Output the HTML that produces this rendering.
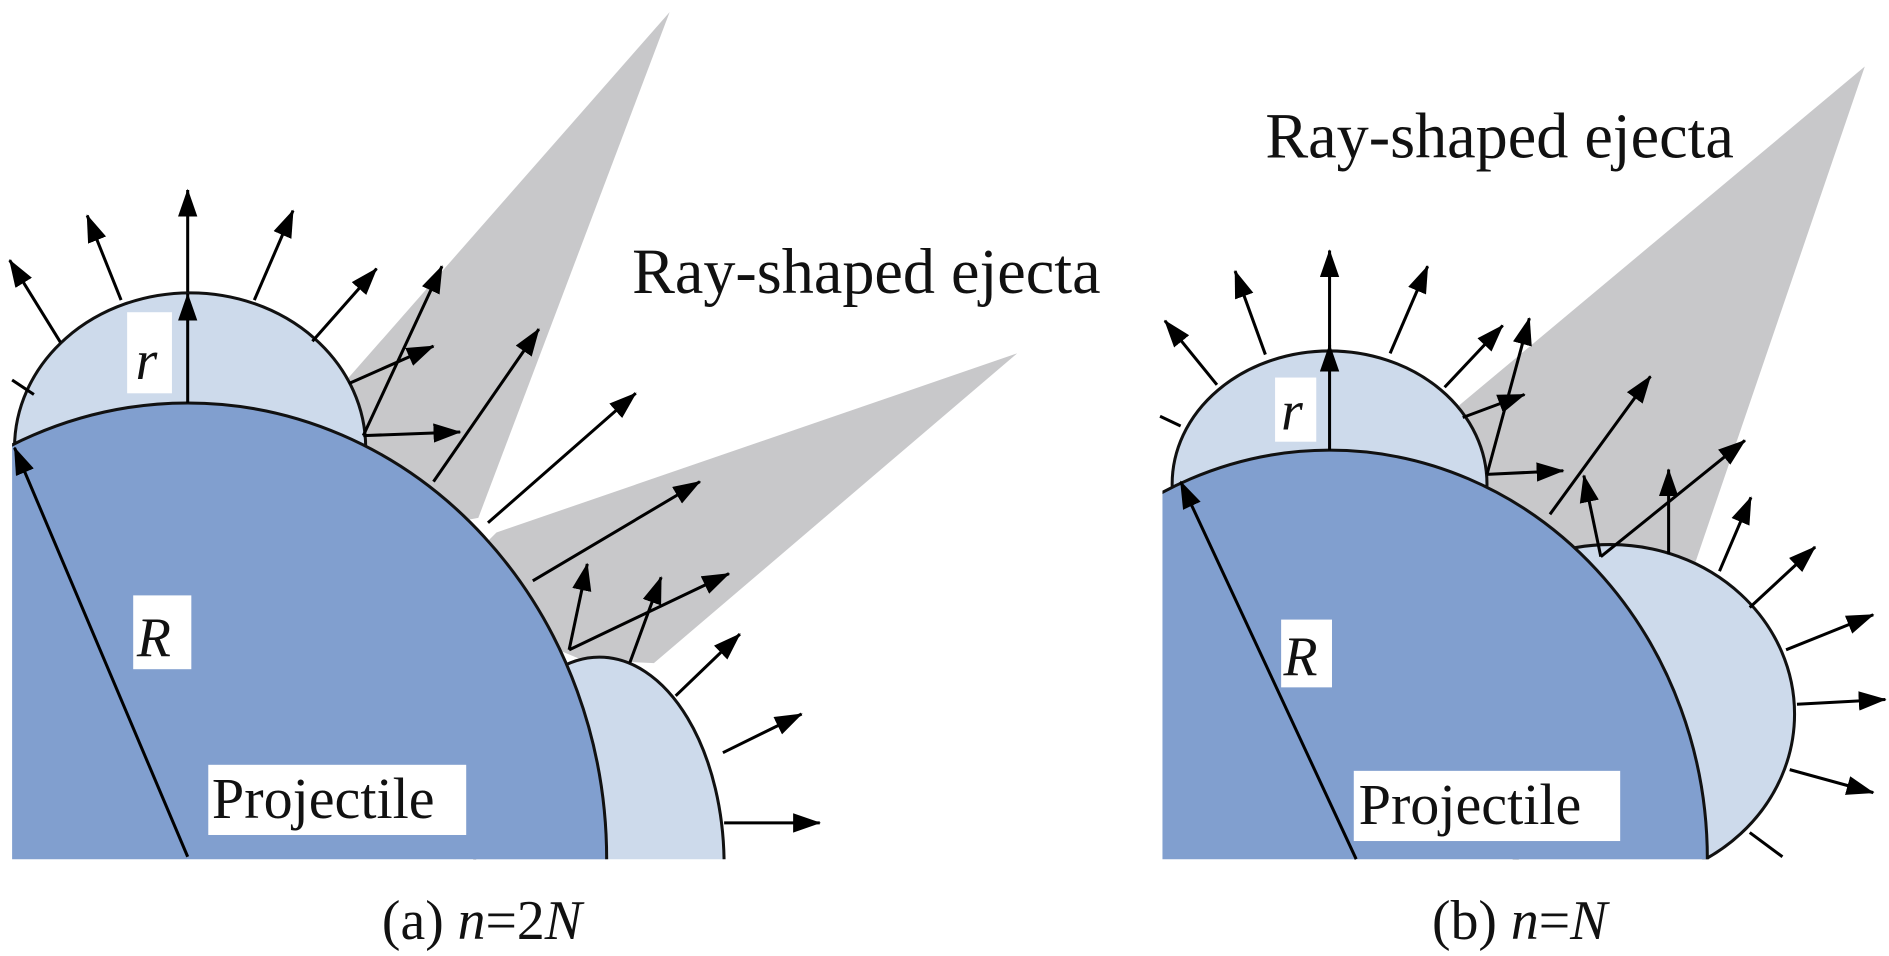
<!DOCTYPE html>
<html><head><meta charset="utf-8"><style>
html,body{margin:0;padding:0;background:#fff;width:1889px;height:956px;overflow:hidden}
svg{display:block}
text{font-family:"Liberation Serif","Times New Roman",serif;fill:#111}
</style></head><body>
<svg width="1889" height="956" viewBox="0 0 1560 790" preserveAspectRatio="none" xmlns="http://www.w3.org/2000/svg" font-family="Liberation Serif, Times New Roman, serif">
<defs>
<marker id="ah" markerUnits="userSpaceOnUse" markerWidth="24" markerHeight="18" refX="22" refY="8" orient="auto">
<path d="M0,0 L23,8 L0,16 Z" fill="#000"/></marker>
<clipPath id="ca"><rect x="10" y="0" width="900" height="710"/></clipPath>
<clipPath id="cb"><rect x="960" y="0" width="600" height="710"/></clipPath>
</defs>
<rect width="1560" height="790" fill="#fff"/>
<!-- panel a -->
<polygon points="288,312 553,10 395,428 330,440 280,380" fill="#c8c8ca"/>
<polygon points="410,440 840,292 540,548 480,545 420,520 390,460" fill="#c8c8ca"/>
<g clip-path="url(#ca)" stroke="#111" stroke-width="2.5">
<ellipse cx="157" cy="370" rx="145" ry="128" fill="#cddaeb"/>
<ellipse cx="495" cy="715" rx="103" ry="172" fill="#cddaeb"/>
<ellipse cx="155" cy="710" rx="346" ry="377" fill="#819fcf"/>
</g>
<g stroke="#000" stroke-width="2.5" fill="none" marker-end="url(#ah)">
<line x1="50" y1="283" x2="8" y2="215"/>
<line x1="100" y1="248" x2="72" y2="178"/>
<line x1="155" y1="241" x2="155" y2="157"/>
<line x1="210" y1="248" x2="242" y2="174"/>
<line x1="258" y1="282" x2="311" y2="222"/>
<line x1="155" y1="333" x2="155" y2="243"/>
<line x1="155" y1="708" x2="12" y2="370"/>
<line x1="300" y1="360" x2="365" y2="220"/>
<line x1="288" y1="317" x2="358" y2="286"/>
<line x1="300" y1="360" x2="380" y2="357"/>
<line x1="358" y1="398" x2="445" y2="272"/>
<line x1="403" y1="432" x2="525" y2="325"/>
<line x1="440" y1="480" x2="578" y2="398"/>
<line x1="470" y1="537" x2="485" y2="466"/>
<line x1="520" y1="548" x2="546" y2="477"/>
<line x1="470" y1="537" x2="602" y2="474"/>
<line x1="558" y1="575" x2="611" y2="524"/>
<line x1="597" y1="622" x2="662" y2="590"/>
<line x1="598" y1="680" x2="677" y2="680"/>
</g>
<line x1="28" y1="326" x2="10" y2="314" stroke="#000" stroke-width="2.5"/>
<rect x="105" y="258" width="37" height="67" fill="#fff"/>
<text x="112" y="313" font-size="46" font-style="italic">r</text>
<rect x="110" y="492" width="48" height="61" fill="#fff"/>
<text x="113" y="542" font-size="46" font-style="italic">R</text>
<rect x="172" y="632" width="213" height="58" fill="#fff"/>
<text x="175" y="676" font-size="48">Projectile</text>
<text x="522" y="242" font-size="53">Ray-shaped ejecta</text>
<text x="398" y="776" font-size="46" text-anchor="middle">(a) <tspan font-style="italic">n</tspan>=2<tspan font-style="italic">N</tspan></text>
<!-- panel b -->
<polygon points="1205,335 1540,55 1400,465 1322,480 1260,440 1220,392" fill="#c8c8ca"/>
<g clip-path="url(#cb)" stroke="#111" stroke-width="2.5">
<ellipse cx="1098" cy="400" rx="130" ry="110" fill="#cddaeb"/>
<ellipse cx="1330" cy="590" rx="152" ry="140" fill="#cddaeb"/>
<ellipse cx="1098" cy="710" rx="312" ry="338" fill="#819fcf"/>
</g>
<g stroke="#000" stroke-width="2.5" fill="none" marker-end="url(#ah)">
<line x1="1005" y1="318" x2="962" y2="265"/>
<line x1="1045" y1="293" x2="1020" y2="224"/>
<line x1="1098" y1="290" x2="1098" y2="207"/>
<line x1="1148" y1="292" x2="1179" y2="220"/>
<line x1="1193" y1="320" x2="1241" y2="269"/>
<line x1="1098" y1="372" x2="1098" y2="285"/>
<line x1="1120" y1="710" x2="975" y2="398"/>
<line x1="1228" y1="392" x2="1263" y2="263"/>
<line x1="1208" y1="345" x2="1259" y2="326"/>
<line x1="1228" y1="392" x2="1291" y2="389"/>
<line x1="1280" y1="425" x2="1363" y2="311"/>
<line x1="1322" y1="460" x2="1308" y2="393"/>
<line x1="1322" y1="460" x2="1441" y2="364"/>
<line x1="1378" y1="458" x2="1378" y2="388"/>
<line x1="1420" y1="472" x2="1446" y2="411"/>
<line x1="1445" y1="502" x2="1499" y2="452"/>
<line x1="1475" y1="537" x2="1547" y2="508"/>
<line x1="1484" y1="582" x2="1557" y2="578"/>
<line x1="1478" y1="636" x2="1547" y2="655"/>
</g>
<line x1="975" y1="352" x2="958" y2="344" stroke="#000" stroke-width="2.5"/>
<line x1="1445" y1="688" x2="1472" y2="708" stroke="#000" stroke-width="2.5"/>
<rect x="1053" y="312" width="34" height="53" fill="#fff"/>
<text x="1058" y="355" font-size="46" font-style="italic">r</text>
<rect x="1058" y="512" width="42" height="56" fill="#fff"/>
<text x="1060" y="558" font-size="46" font-style="italic">R</text>
<rect x="1118" y="637" width="220" height="58" fill="#fff"/>
<text x="1122" y="681" font-size="48">Projectile</text>
<text x="1045" y="130" font-size="53">Ray-shaped ejecta</text>
<text x="1255" y="776" font-size="46" text-anchor="middle">(b) <tspan font-style="italic">n</tspan>=<tspan font-style="italic">N</tspan></text>
</svg>
</body></html>
